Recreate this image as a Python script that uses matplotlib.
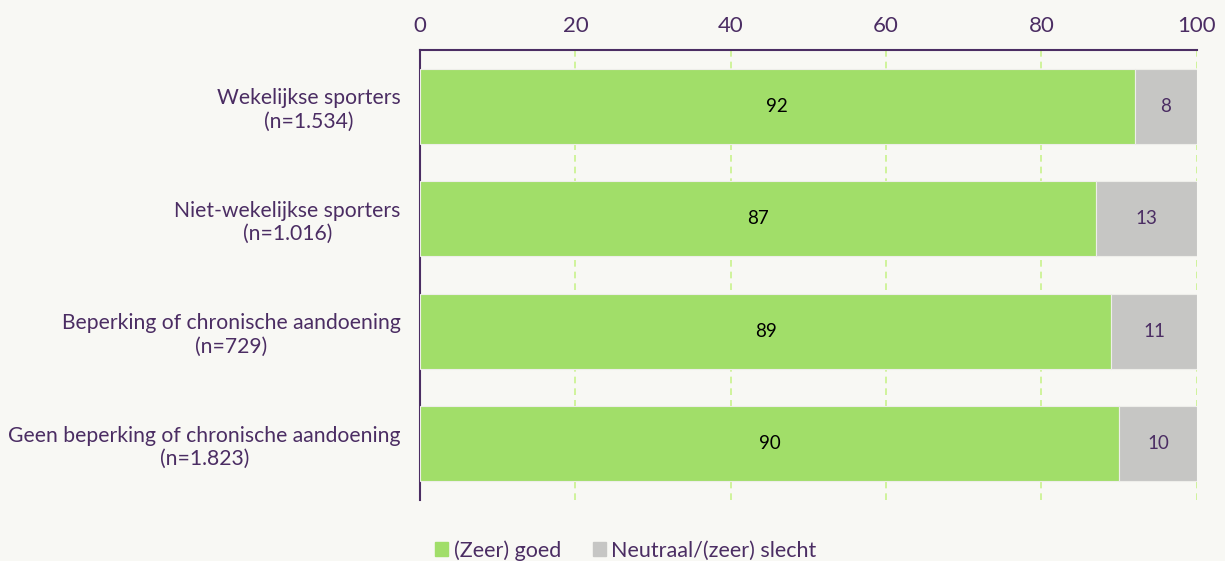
import matplotlib.pyplot as plt
from matplotlib.patches import Patch

plt.rcParams['font.family'] = ['Lato', 'DejaVu Sans']

# data
categories = [
    "Wekelijkse sporters\n(n=1.534)",
    "Niet-wekelijkse sporters\n(n=1.016)",
    "Beperking of chronische aandoening\n(n=729)",
    "Geen beperking of chronische aandoening\n(n=1.823)",
]
goed = [92, 87, 89, 90]
slecht = [8, 13, 11, 10]
series_names = ["(Zeer) goed", "Neutraal/(zeer) slecht"]

purple = "#4b2d63"
green = "#a1de69"
grey = "#c6c6c4"
bg = "#f8f8f4"

fig = plt.figure(figsize=(12.25, 5.61), dpi=100, facecolor=bg)
ax = fig.add_axes([0.3429, 0.1087, 0.977 - 0.3429, 0.9109 - 0.1087], facecolor=bg)

y = list(range(len(categories)))
ax.barh(y, goed, height=0.667, color=green, edgecolor="#eeeeea", linewidth=0.8, zorder=3)
ax.barh(y, slecht, left=goed, height=0.667, color=grey, edgecolor="#eeeeea", linewidth=0.8, zorder=3)

for i in y:
    ax.text(goed[i] / 2, i, str(goed[i]), ha="center", va="center",
            fontsize=13.5, color="black", zorder=4)
    ax.text(goed[i] + slecht[i] / 2, i, str(slecht[i]), ha="center", va="center",
            fontsize=13.5, color=purple, zorder=4)

ax.set_xlim(0, 100)
ax.set_ylim(len(categories) - 0.5, -0.5)
ax.set_yticks(y)
ax.set_yticklabels(categories, fontsize=15.2, color=purple, ha="right", multialignment="center")
ax.tick_params(axis="y", length=0, pad=14)
ax.xaxis.tick_top()
ax.set_xticks([0, 20, 40, 60, 80, 100])
ax.tick_params(axis="x", length=0, labelsize=16, labelcolor=purple, pad=10)

ax.grid(axis="x", color="#c8f28c", linestyle=(0, (4, 3)), linewidth=1.2, zorder=0)
ax.grid(axis="y", visible=False)

for s in ["bottom", "right"]:
    ax.spines[s].set_visible(False)
for s in ["top", "left"]:
    ax.spines[s].set_color(purple)
    ax.spines[s].set_linewidth(1.5)

handles = [Patch(color=green), Patch(color=grey)]
fig.legend(handles, series_names, loc="lower center", bbox_to_anchor=(0.511, -0.034),
           ncol=2, frameon=False, fontsize=15.5, labelcolor=purple,
           handlelength=0.6, handleheight=0.6, handletextpad=0.25, columnspacing=1.5)

fig.savefig("out.png", dpi=100, facecolor=bg)
